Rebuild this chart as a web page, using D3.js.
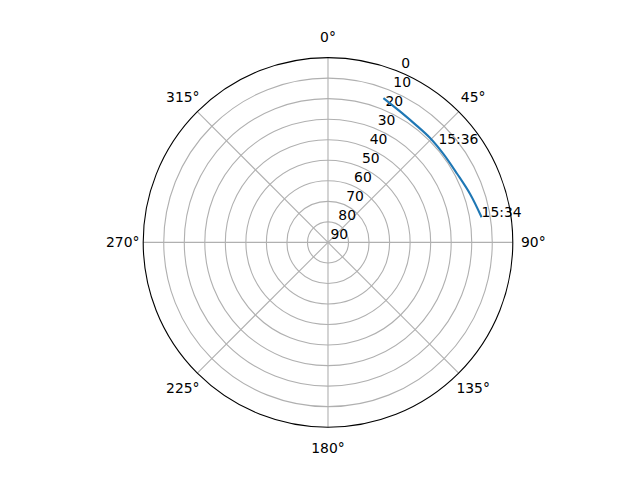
<!DOCTYPE html>
<html>
<head>
<meta charset="utf-8">
<script src="https://cdn.jsdelivr.net/npm/d3@7"></script>
<style>
  body { margin: 0; background: #fff; }
  text { font-family: "DejaVu Sans", sans-serif; font-size: 13.9px; fill: #000; }
</style>
</head>
<body>
<div id="chart"></div>
<script>
const width = 640;
const height = 480;

// Satellite pass, in time order (azimuth deg, elevation deg)
const azimuth = [80.7, 71.2, 62.0, 52.5, 44.1, 37.2, 28.8, 21.0];
const elevation = [14.2, 16.9, 18.8, 19.2, 18.9, 18.6, 17.2, 14.7];

// Time annotations
const labelTimes = ['15:34', '15:36'];
const labelAz = [80.7, 48.3];
const labelEl = [14.2, 18.0];

// Axis ticks
const elevationTicks = [0, 10, 20, 30, 40, 50, 60, 70, 80, 90];
const azimuthTicks = [0, 45, 90, 135, 180, 225, 270, 315];

const cx = 328;
const cy = 242.4;
const radius = 184.8;

// Elevation 90 at the centre, 0 at the rim
const r = d3.scaleLinear().domain([90, 0]).range([0, radius]);
const rad = d => d * Math.PI / 180;

const svg = d3.select('#chart')
  .append('svg')
  .attr('width', width)
  .attr('height', height);

const g = svg.append('g').attr('transform', `translate(${cx},${cy})`);

// Grid rings
g.selectAll('.ring')
  .data(elevationTicks.filter(d => d > 0 && d < 90))
  .enter()
  .append('circle')
  .attr('r', d => r(d))
  .attr('fill', 'none')
  .attr('stroke', '#b0b0b0')
  .attr('stroke-width', 1.1);

// Spokes
g.selectAll('.spoke')
  .data(azimuthTicks)
  .enter()
  .append('line')
  .attr('x1', 0)
  .attr('y1', 0)
  .attr('x2', d => radius * Math.sin(rad(d)))
  .attr('y2', d => -radius * Math.cos(rad(d)))
  .attr('stroke', '#b0b0b0')
  .attr('stroke-width', 1.1);

// Outer frame
g.append('circle')
  .attr('r', radius)
  .attr('fill', 'none')
  .attr('stroke', '#000')
  .attr('stroke-width', 1.1);

// Azimuth labels
g.selectAll('.az-label')
  .data(azimuthTicks)
  .enter()
  .append('text')
  .attr('x', d => (radius + 20.5) * Math.sin(rad(d)))
  .attr('y', d => -(radius + 20.5) * Math.cos(rad(d)))
  .attr('text-anchor', 'middle')
  .attr('dominant-baseline', 'central')
  .text(d => d + '°');

// Elevation labels along 22.5°
g.selectAll('.el-label')
  .data(elevationTicks)
  .enter()
  .append('text')
  .attr('x', d => r(d) * Math.sin(rad(22.5)) + 2.5)
  .attr('y', d => -r(d) * Math.cos(rad(22.5)) - 3.3)
  .text(d => d);

// Pass track
const line = d3.lineRadial()
  .angle(d => rad(d[0]))
  .radius(d => r(d[1]))
  .curve(d3.curveCatmullRom);

g.append('path')
  .datum(azimuth.map((a, i) => [a, elevation[i]]))
  .attr('d', line)
  .attr('fill', 'none')
  .attr('stroke', '#1f77b4')
  .attr('stroke-width', 2.1);

// Time annotations
g.selectAll('.time-label')
  .data(labelTimes)
  .enter()
  .append('text')
  .attr('x', (d, i) => r(labelEl[i]) * Math.sin(rad(labelAz[i])))
  .attr('y', (d, i) => -r(labelEl[i]) * Math.cos(rad(labelAz[i])))
  .text(d => d);
</script>
</body>
</html>
